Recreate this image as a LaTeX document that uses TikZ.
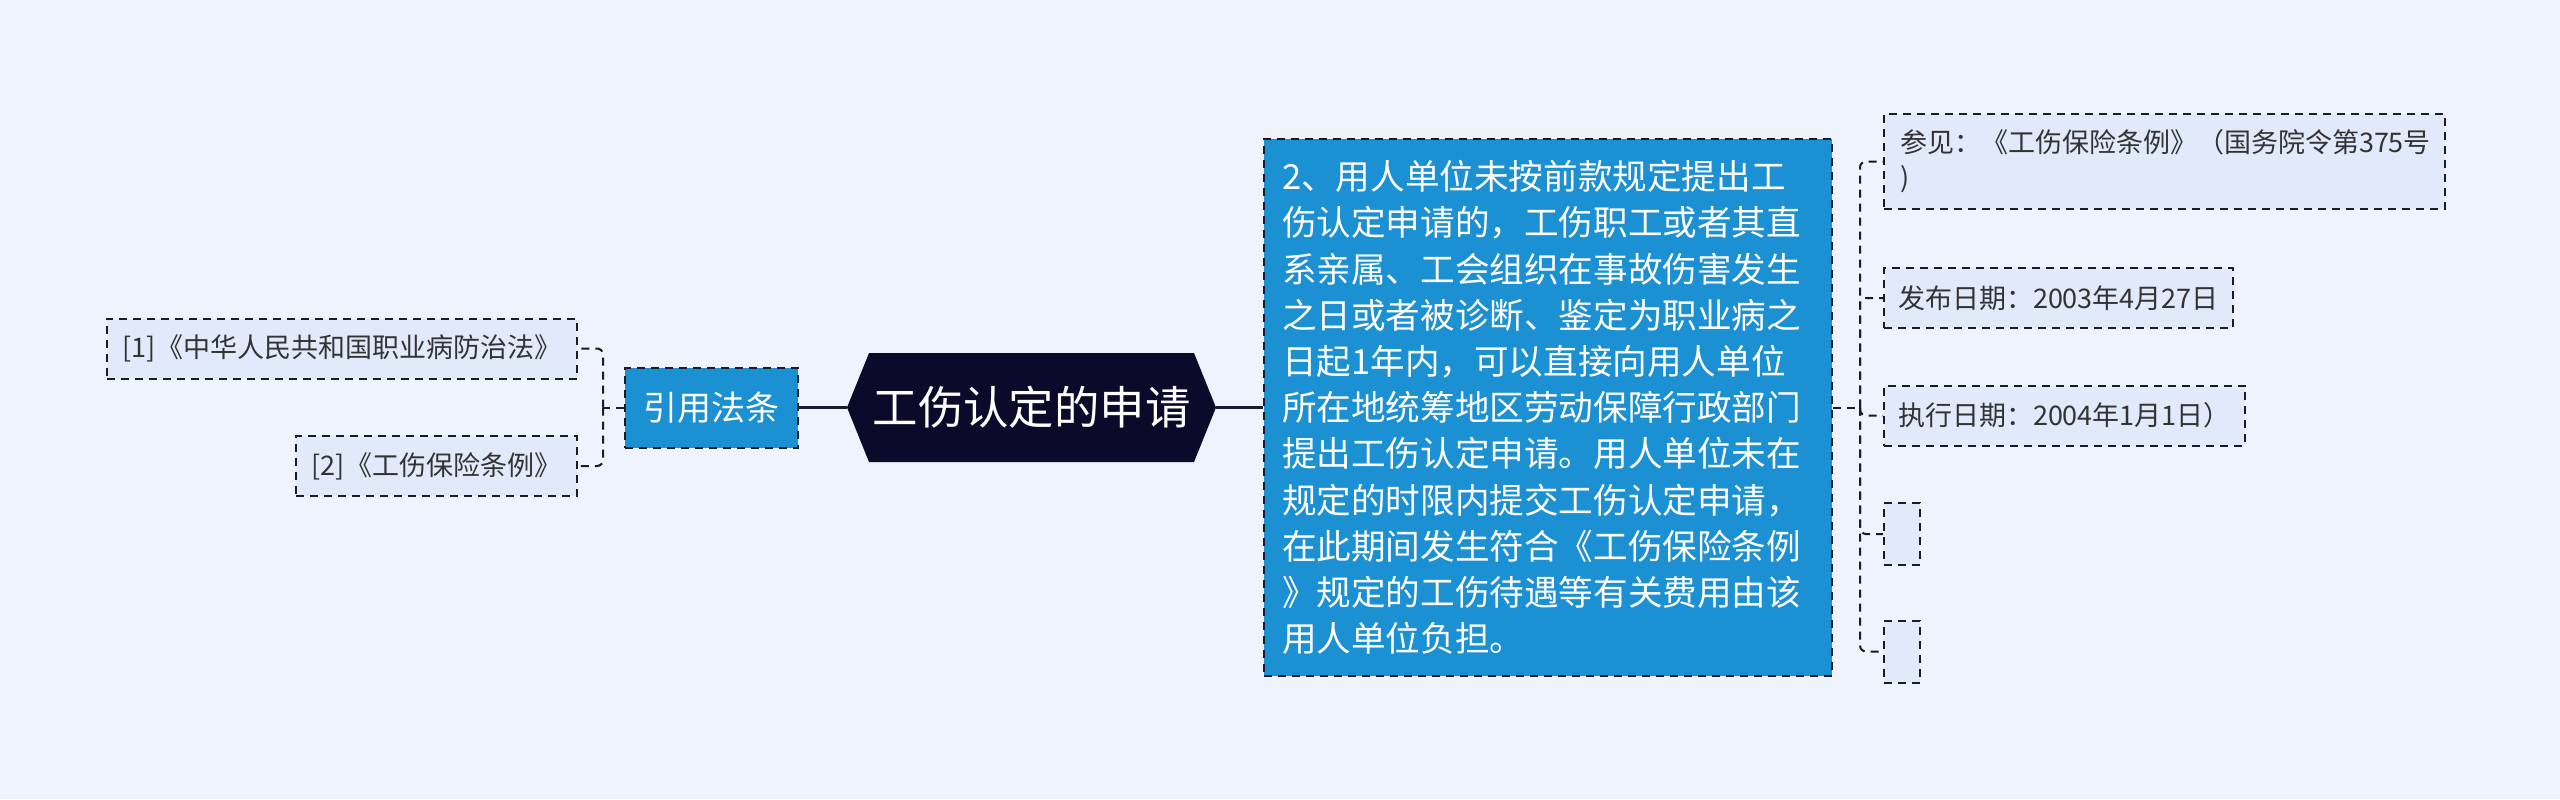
\documentclass[tikz,border=0pt]{standalone}
\usepackage{fontspec}
\setmainfont{Noto Sans CJK SC}
\usetikzlibrary{positioning}
\usetikzlibrary{shapes.symbols}

\definecolor{bgblue}{HTML}{EEF3FE}
\definecolor{leafblue}{HTML}{E1EAFB}
\definecolor{midblue}{HTML}{1B90D3}
\definecolor{rootnavy}{HTML}{0C0A2B}
\definecolor{linedark}{HTML}{1A1A2A}

\begin{document}
\begin{tikzpicture}[x=0.5pt, y=-0.5pt,
  leaf/.style={draw=linedark, line width=1pt, dash pattern=on 4pt off 3pt,
    fill=leafblue, text=black!80, font=\fontsize{13.5pt}{17.5pt}\selectfont,
    inner xsep=8pt, minimum height=30pt, align=left},
  midbox/.style={draw=linedark, line width=1pt, dash pattern=on 4pt off 3pt,
    fill=midblue, text=white},
  mainline/.style={draw=linedark, line width=1.5pt},
  leafline/.style={draw=linedark, line width=1pt, dash pattern=on 4pt off 3pt, rounded corners=3pt}]

\fill[bgblue] (0,0) rectangle (2560,799);
\useasboundingbox (0,0) rectangle (2560,799);

\node(root)[shape=signal, signal to=west and east, signal pointer angle=136,
  fill=rootnavy, text=white, minimum width=184.5pt, minimum height=54.5pt,
  inner sep=0pt, font=\fontsize{22.7pt}{26pt}\selectfont] at (1031.5,407.5) {工伤认定的申请};

% left side
\node(cite)[midbox, minimum width=86.5pt, minimum height=40pt, inner sep=0pt,
  font=\fontsize{17pt}{20pt}\selectfont] at (711.5,407.5) {引用法条};
\node(c1)[leaf, anchor=east] at (578,348.5) {[1]《中华人民共和国职业病防治法》};
\node(c2)[leaf, anchor=east] at (578,466) {[2]《工伤保险条例》};

\coordinate(ls) at (603,407.5);

% right side
\node(body)[midbox, text width=266pt, inner xsep=9pt, minimum height=268.5pt, align=left,
  font=\fontsize{17.3pt}{23.1pt}\selectfont] at (1548,407.5) {2、用人单位未按前款规定提出工\\
伤认定申请的，工伤职工或者其直\\
系亲属、工会组织在事故伤害发生\\
之日或者被诊断、鉴定为职业病之\\
日起1年内，可以直接向用人单位\\
所在地统筹地区劳动保障行政部门\\
提出工伤认定申请。用人单位未在\\
规定的时限内提交工伤认定申请，\\
在此期间发生符合《工伤保险条例\\
》规定的工伤待遇等有关费用由该\\
用人单位负担。};

\node(r1)[leaf, anchor=west, text width=264.5pt, minimum height=47.5pt] at (1883,161.5)
  {参见：《工伤保险条例》（国务院令第375号\\)};
\node(r2)[leaf, anchor=west, inner xsep=7pt] at (1883,298) {发布日期：2003年4月27日};
\node(r3)[leaf, anchor=west, inner xsep=7pt] at (1883,415.5) {执行日期：2004年1月1日）};
\node(r4)[leaf, anchor=west, minimum width=18pt, minimum height=31pt, inner sep=0pt] at (1883,534) {};
\node(r5)[leaf, anchor=west, minimum width=18pt, minimum height=31pt, inner sep=0pt] at (1883,651.5) {};

\coordinate(rs) at (1860,407.5);

\draw[mainline] (cite.east)--(root.west);
\draw[mainline] (root.east)--(body.west |- root.east);

\draw[leafline] (cite.west)--(ls);
\draw[leafline] (ls) |- (c1.east);
\draw[leafline] (ls) |- (c2.east);

\draw[leafline] (body.east |- rs)--(rs);
\draw[leafline] (rs) |- (r1.west);
\draw[leafline] (rs) |- (r2.west);
\draw[leafline] (rs) |- (r3.west);
\draw[leafline] (rs) |- (r4.west);
\draw[leafline] (rs) |- (r5.west);
\end{tikzpicture}
\end{document}
